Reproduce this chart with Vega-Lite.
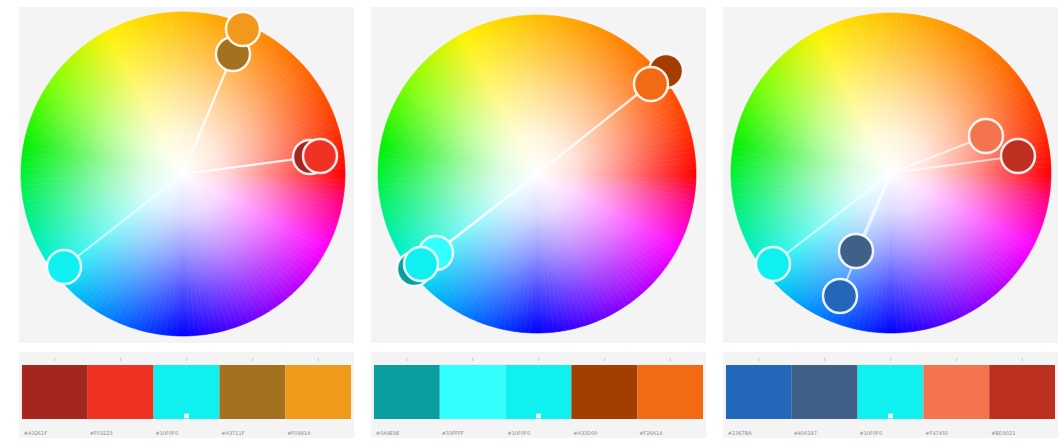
{
  "$schema": "https://vega.github.io/schema/vega-lite/v6.json",
  "background": "#ffffff",
  "padding": {"left": 19, "top": 6, "right": 0, "bottom": 0},
  "spacing": 17,
  "config": {"view": {"fill": "#f4f4f4", "stroke": null}, "axis": {"disable": true}},
  "datasets": {
    "hues": [
      {"h":1},{"h":3},{"h":5},{"h":7},{"h":9},{"h":11},{"h":13},{"h":15},{"h":17},{"h":19},
      {"h":21},{"h":23},{"h":25},{"h":27},{"h":29},{"h":31},{"h":33},{"h":35},{"h":37},{"h":39},
      {"h":41},{"h":43},{"h":45},{"h":47},{"h":49},{"h":51},{"h":53},{"h":55},{"h":57},{"h":59},
      {"h":61},{"h":63},{"h":65},{"h":67},{"h":69},{"h":71},{"h":73},{"h":75},{"h":77},{"h":79},
      {"h":81},{"h":83},{"h":85},{"h":87},{"h":89},{"h":91},{"h":93},{"h":95},{"h":97},{"h":99},
      {"h":101},{"h":103},{"h":105},{"h":107},{"h":109},{"h":111},{"h":113},{"h":115},{"h":117},{"h":119},
      {"h":121},{"h":123},{"h":125},{"h":127},{"h":129},{"h":131},{"h":133},{"h":135},{"h":137},{"h":139},
      {"h":141},{"h":143},{"h":145},{"h":147},{"h":149},{"h":151},{"h":153},{"h":155},{"h":157},{"h":159},
      {"h":161},{"h":163},{"h":165},{"h":167},{"h":169},{"h":171},{"h":173},{"h":175},{"h":177},{"h":179},
      {"h":181},{"h":183},{"h":185},{"h":187},{"h":189},{"h":191},{"h":193},{"h":195},{"h":197},{"h":199},
      {"h":201},{"h":203},{"h":205},{"h":207},{"h":209},{"h":211},{"h":213},{"h":215},{"h":217},{"h":219},
      {"h":221},{"h":223},{"h":225},{"h":227},{"h":229},{"h":231},{"h":233},{"h":235},{"h":237},{"h":239},
      {"h":241},{"h":243},{"h":245},{"h":247},{"h":249},{"h":251},{"h":253},{"h":255},{"h":257},{"h":259},
      {"h":261},{"h":263},{"h":265},{"h":267},{"h":269},{"h":271},{"h":273},{"h":275},{"h":277},{"h":279},
      {"h":281},{"h":283},{"h":285},{"h":287},{"h":289},{"h":291},{"h":293},{"h":295},{"h":297},{"h":299},
      {"h":301},{"h":303},{"h":305},{"h":307},{"h":309},{"h":311},{"h":313},{"h":315},{"h":317},{"h":319},
      {"h":321},{"h":323},{"h":325},{"h":327},{"h":329},{"h":331},{"h":333},{"h":335},{"h":337},{"h":339},
      {"h":341},{"h":343},{"h":345},{"h":347},{"h":349},{"h":351},{"h":353},{"h":355},{"h":357},{"h":359}
    ],
    "circles": [
      {"p":1,"x":50,"y":120,"c":"#A3711F"},
      {"p":1,"x":60,"y":145,"c":"#F0991A"},
      {"p":1,"x":127,"y":17,"c":"#A3261F"},
      {"p":1,"x":137,"y":18,"c":"#F03223"},
      {"p":1,"x":-119,"y":-93,"c":"#10F0F0"},
      {"p":2,"x":129,"y":103,"c":"#A33D00"},
      {"p":2,"x":114,"y":90,"c":"#F26A14"},
      {"p":2,"x":-123,"y":-95,"c":"#0A9E9E"},
      {"p":2,"x":-101,"y":-79,"c":"#33FFFF"},
      {"p":2,"x":-116,"y":-90,"c":"#10F0F0"},
      {"p":3,"x":95,"y":37,"c":"#F47450"},
      {"p":3,"x":127,"y":17,"c":"#BD3021"},
      {"p":3,"x":-35,"y":-78,"c":"#406187"},
      {"p":3,"x":-51,"y":-123,"c":"#2367BA"},
      {"p":3,"x":-118,"y":-91,"c":"#10F0F0"}
    ],
    "pal": [
      {"p":1,"i":0,"c":"#A3261F"},{"p":1,"i":1,"c":"#F03223"},{"p":1,"i":2,"c":"#10F0F0"},{"p":1,"i":3,"c":"#A3711F"},{"p":1,"i":4,"c":"#F0991A"},
      {"p":2,"i":0,"c":"#0A9E9E"},{"p":2,"i":1,"c":"#33FFFF"},{"p":2,"i":2,"c":"#10F0F0"},{"p":2,"i":3,"c":"#A33D00"},{"p":2,"i":4,"c":"#F26A14"},
      {"p":3,"i":0,"c":"#2367BA"},{"p":3,"i":1,"c":"#406187"},{"p":3,"i":2,"c":"#10F0F0"},{"p":3,"i":3,"c":"#F47450"},{"p":3,"i":4,"c":"#BD3021"}
    ]
  },
  "hconcat": [
    {
      "spacing": 9,
      "vconcat": [
        {
          "width": 335, "height": 336,
          "layer": [
            {"data": {"name": "hues"}, "mark": {"type": "arc", "outerRadius": 162, "strokeWidth": 0.6, "strokeJoin": "round"},
             "encoding": {
               "x": {"datum": 0, "type": "quantitative"}, "y": {"datum": 0, "type": "quantitative"},
               "theta": {"aggregate": "count", "type": "quantitative", "stack": true, "scale": {"range": [1.5708, -4.7124]}},
               "order": {"field": "h", "type": "quantitative", "sort": "ascending"},
               "detail": {"field": "h", "type": "quantitative"},
               "color": {"field": "h", "type": "quantitative", "legend": null, "scale": {"type": "linear", "interpolate": "rgb", "domain": [0,20,40,60,80,100,118,145,170,195,218,245,270,300,333,350,360], "range": ["#ff0000","#ff3a00","#ff6600","#ff8800","#ffaa00","#ffd000","#fff200","#80ff00","#00f000","#00f080","#00f0f0","#0077ff","#0000ff","#8000ff","#ff00ff","#ff0080","#ff0000"]}},
               "stroke": {"field": "h", "type": "quantitative", "legend": null, "scale": {"type": "linear", "interpolate": "rgb", "domain": [0,20,40,60,80,100,118,145,170,195,218,245,270,300,333,350,360], "range": ["#ff0000","#ff3a00","#ff6600","#ff8800","#ffaa00","#ffd000","#fff200","#80ff00","#00f000","#00f080","#00f0f0","#0077ff","#0000ff","#8000ff","#ff00ff","#ff0080","#ff0000"]}}
             }},
            {"data": {"values": [{"k": 1}]}, "mark": {"type": "arc", "outerRadius": 162, "theta": 0, "theta2": 6.2832, "stroke": null,
              "fill": {"gradient": "radial", "x1": 0.5, "y1": 0.5, "r1": 0, "x2": 0.5, "y2": 0.5, "r2": 0.5,
                "stops": [{"offset": 0, "color": "rgba(255,255,255,1)"}, {"offset": 0.25, "color": "rgba(255,255,255,0.85)"}, {"offset": 0.5, "color": "rgba(255,255,255,0.58)"}, {"offset": 0.75, "color": "rgba(255,255,255,0.28)"}, {"offset": 1, "color": "rgba(255,255,255,0)"}]}},
             "encoding": {"x": {"datum": 0, "type": "quantitative"}, "y": {"datum": 0, "type": "quantitative"}}},
            {"data": {"name": "circles"}, "transform": [{"filter": {"field": "p", "equal": 1}}],
             "mark": {"type": "rule", "color": "#ffffff", "strokeWidth": 2, "opacity": 0.65},
             "encoding": {
               "x": {"field": "x", "type": "quantitative", "scale": {"domain": [-164, 171], "zero": false, "nice": false}, "axis": null},
               "y": {"field": "y", "type": "quantitative", "scale": {"domain": [-169, 167], "zero": false, "nice": false}, "axis": null},
               "x2": {"datum": 0}, "y2": {"datum": 0}
             }},
            {"data": {"name": "circles"}, "transform": [{"filter": {"field": "p", "equal": 1}}],
             "mark": {"type": "point", "shape": "circle", "filled": true, "size": 1156, "stroke": "#ffffff", "strokeWidth": 2.5, "strokeOpacity": 0.9, "opacity": 1},
             "encoding": {
               "x": {"field": "x", "type": "quantitative", "axis": null},
               "y": {"field": "y", "type": "quantitative", "axis": null},
               "fill": {"field": "c", "type": "nominal", "scale": null}
             }}
          ]
        },
        {
          "width": 335, "height": 86,
          "data": {"name": "pal"}, "transform": [{"filter": {"field": "p", "equal": 1}}],
          "encoding": {"x": {"field": "i", "type": "ordinal", "scale": {"paddingInner": 0, "paddingOuter": 0.045}, "axis": null}},
          "layer": [
            {"mark": {"type": "rect"}, "encoding": {"y": {"datum": 13, "type": "quantitative", "scale": {"domain": [0, 86], "reverse": true, "zero": false, "nice": false}, "axis": null}, "y2": {"datum": 67}, "fill": {"field": "c", "type": "nominal", "scale": null}}},
            {"mark": {"type": "text", "fontSize": 5, "color": "#9a9a9a", "font": "DejaVu Sans"}, "encoding": {"y": {"datum": 7, "type": "quantitative"}, "text": {"value": "i"}}},
            {"mark": {"type": "text", "fontSize": 5, "color": "#8a8a8a", "align": "left", "dx": -31, "font": "DejaVu Sans"}, "encoding": {"y": {"datum": 81, "type": "quantitative"}, "text": {"field": "c"}}},
            {"transform": [{"filter": {"field": "i", "equal": 2}}], "mark": {"type": "point", "shape": "square", "filled": true, "size": 22, "color": "#ffffff", "opacity": 0.95}, "encoding": {"y": {"datum": 64, "type": "quantitative"}}}
          ]
        }
      ]
    },
    {
      "spacing": 9,
      "vconcat": [
        {
          "width": 335, "height": 336,
          "layer": [
            {"data": {"name": "hues"}, "mark": {"type": "arc", "outerRadius": 159, "strokeWidth": 0.6, "strokeJoin": "round"},
             "encoding": {
               "x": {"datum": 0, "type": "quantitative"}, "y": {"datum": 0, "type": "quantitative"},
               "theta": {"aggregate": "count", "type": "quantitative", "stack": true, "scale": {"range": [1.5708, -4.7124]}},
               "order": {"field": "h", "type": "quantitative", "sort": "ascending"},
               "detail": {"field": "h", "type": "quantitative"},
               "color": {"field": "h", "type": "quantitative", "legend": null, "scale": {"type": "linear", "interpolate": "rgb", "domain": [0,20,40,60,80,100,118,145,170,195,218,245,270,300,333,350,360], "range": ["#ff0000","#ff3a00","#ff6600","#ff8800","#ffaa00","#ffd000","#fff200","#80ff00","#00f000","#00f080","#00f0f0","#0077ff","#0000ff","#8000ff","#ff00ff","#ff0080","#ff0000"]}},
               "stroke": {"field": "h", "type": "quantitative", "legend": null, "scale": {"type": "linear", "interpolate": "rgb", "domain": [0,20,40,60,80,100,118,145,170,195,218,245,270,300,333,350,360], "range": ["#ff0000","#ff3a00","#ff6600","#ff8800","#ffaa00","#ffd000","#fff200","#80ff00","#00f000","#00f080","#00f0f0","#0077ff","#0000ff","#8000ff","#ff00ff","#ff0080","#ff0000"]}}
             }},
            {"data": {"values": [{"k": 1}]}, "mark": {"type": "arc", "outerRadius": 159, "theta": 0, "theta2": 6.2832, "stroke": null,
              "fill": {"gradient": "radial", "x1": 0.5, "y1": 0.5, "r1": 0, "x2": 0.5, "y2": 0.5, "r2": 0.5,
                "stops": [{"offset": 0, "color": "rgba(255,255,255,1)"}, {"offset": 0.25, "color": "rgba(255,255,255,0.85)"}, {"offset": 0.5, "color": "rgba(255,255,255,0.58)"}, {"offset": 0.75, "color": "rgba(255,255,255,0.28)"}, {"offset": 1, "color": "rgba(255,255,255,0)"}]}},
             "encoding": {"x": {"datum": 0, "type": "quantitative"}, "y": {"datum": 0, "type": "quantitative"}}},
            {"data": {"name": "circles"}, "transform": [{"filter": {"field": "p", "equal": 2}}],
             "mark": {"type": "rule", "color": "#ffffff", "strokeWidth": 2, "opacity": 0.65},
             "encoding": {
               "x": {"field": "x", "type": "quantitative", "scale": {"domain": [-166, 169], "zero": false, "nice": false}, "axis": null},
               "y": {"field": "y", "type": "quantitative", "scale": {"domain": [-169, 167], "zero": false, "nice": false}, "axis": null},
               "x2": {"datum": 0}, "y2": {"datum": 0}
             }},
            {"data": {"name": "circles"}, "transform": [{"filter": {"field": "p", "equal": 2}}],
             "mark": {"type": "point", "shape": "circle", "filled": true, "size": 1156, "stroke": "#ffffff", "strokeWidth": 2.5, "strokeOpacity": 0.9, "opacity": 1},
             "encoding": {
               "x": {"field": "x", "type": "quantitative", "axis": null},
               "y": {"field": "y", "type": "quantitative", "axis": null},
               "fill": {"field": "c", "type": "nominal", "scale": null}
             }}
          ]
        },
        {
          "width": 335, "height": 86,
          "data": {"name": "pal"}, "transform": [{"filter": {"field": "p", "equal": 2}}],
          "encoding": {"x": {"field": "i", "type": "ordinal", "scale": {"paddingInner": 0, "paddingOuter": 0.045}, "axis": null}},
          "layer": [
            {"mark": {"type": "rect"}, "encoding": {"y": {"datum": 13, "type": "quantitative", "scale": {"domain": [0, 86], "reverse": true, "zero": false, "nice": false}, "axis": null}, "y2": {"datum": 67}, "fill": {"field": "c", "type": "nominal", "scale": null}}},
            {"mark": {"type": "text", "fontSize": 5, "color": "#9a9a9a", "font": "DejaVu Sans"}, "encoding": {"y": {"datum": 7, "type": "quantitative"}, "text": {"value": "i"}}},
            {"mark": {"type": "text", "fontSize": 5, "color": "#8a8a8a", "align": "left", "dx": -31, "font": "DejaVu Sans"}, "encoding": {"y": {"datum": 81, "type": "quantitative"}, "text": {"field": "c"}}},
            {"transform": [{"filter": {"field": "i", "equal": 2}}], "mark": {"type": "point", "shape": "square", "filled": true, "size": 22, "color": "#ffffff", "opacity": 0.95}, "encoding": {"y": {"datum": 64, "type": "quantitative"}}}
          ]
        }
      ]
    },
    {
      "spacing": 9,
      "vconcat": [
        {
          "width": 335, "height": 336,
          "layer": [
            {"data": {"name": "hues"}, "mark": {"type": "arc", "outerRadius": 160, "strokeWidth": 0.6, "strokeJoin": "round"},
             "encoding": {
               "x": {"datum": 0, "type": "quantitative"}, "y": {"datum": 0, "type": "quantitative"},
               "theta": {"aggregate": "count", "type": "quantitative", "stack": true, "scale": {"range": [1.5708, -4.7124]}},
               "order": {"field": "h", "type": "quantitative", "sort": "ascending"},
               "detail": {"field": "h", "type": "quantitative"},
               "color": {"field": "h", "type": "quantitative", "legend": null, "scale": {"type": "linear", "interpolate": "rgb", "domain": [0,20,40,60,80,100,118,145,170,195,218,245,270,300,333,350,360], "range": ["#ff0000","#ff3a00","#ff6600","#ff8800","#ffaa00","#ffd000","#fff200","#80ff00","#00f000","#00f080","#00f0f0","#0077ff","#0000ff","#8000ff","#ff00ff","#ff0080","#ff0000"]}},
               "stroke": {"field": "h", "type": "quantitative", "legend": null, "scale": {"type": "linear", "interpolate": "rgb", "domain": [0,20,40,60,80,100,118,145,170,195,218,245,270,300,333,350,360], "range": ["#ff0000","#ff3a00","#ff6600","#ff8800","#ffaa00","#ffd000","#fff200","#80ff00","#00f000","#00f080","#00f0f0","#0077ff","#0000ff","#8000ff","#ff00ff","#ff0080","#ff0000"]}}
             }},
            {"data": {"values": [{"k": 1}]}, "mark": {"type": "arc", "outerRadius": 160, "theta": 0, "theta2": 6.2832, "stroke": null,
              "fill": {"gradient": "radial", "x1": 0.5, "y1": 0.5, "r1": 0, "x2": 0.5, "y2": 0.5, "r2": 0.5,
                "stops": [{"offset": 0, "color": "rgba(255,255,255,1)"}, {"offset": 0.25, "color": "rgba(255,255,255,0.85)"}, {"offset": 0.5, "color": "rgba(255,255,255,0.58)"}, {"offset": 0.75, "color": "rgba(255,255,255,0.28)"}, {"offset": 1, "color": "rgba(255,255,255,0)"}]}},
             "encoding": {"x": {"datum": 0, "type": "quantitative"}, "y": {"datum": 0, "type": "quantitative"}}},
            {"data": {"name": "circles"}, "transform": [{"filter": {"field": "p", "equal": 3}}],
             "mark": {"type": "rule", "color": "#ffffff", "strokeWidth": 2, "opacity": 0.65},
             "encoding": {
               "x": {"field": "x", "type": "quantitative", "scale": {"domain": [-168, 167], "zero": false, "nice": false}, "axis": null},
               "y": {"field": "y", "type": "quantitative", "scale": {"domain": [-170, 166], "zero": false, "nice": false}, "axis": null},
               "x2": {"datum": 0}, "y2": {"datum": 0}
             }},
            {"data": {"name": "circles"}, "transform": [{"filter": {"field": "p", "equal": 3}}],
             "mark": {"type": "point", "shape": "circle", "filled": true, "size": 1156, "stroke": "#ffffff", "strokeWidth": 2.5, "strokeOpacity": 0.9, "opacity": 1},
             "encoding": {
               "x": {"field": "x", "type": "quantitative", "axis": null},
               "y": {"field": "y", "type": "quantitative", "axis": null},
               "fill": {"field": "c", "type": "nominal", "scale": null}
             }}
          ]
        },
        {
          "width": 335, "height": 86,
          "data": {"name": "pal"}, "transform": [{"filter": {"field": "p", "equal": 3}}],
          "encoding": {"x": {"field": "i", "type": "ordinal", "scale": {"paddingInner": 0, "paddingOuter": 0.045}, "axis": null}},
          "layer": [
            {"mark": {"type": "rect"}, "encoding": {"y": {"datum": 13, "type": "quantitative", "scale": {"domain": [0, 86], "reverse": true, "zero": false, "nice": false}, "axis": null}, "y2": {"datum": 67}, "fill": {"field": "c", "type": "nominal", "scale": null}}},
            {"mark": {"type": "text", "fontSize": 5, "color": "#9a9a9a", "font": "DejaVu Sans"}, "encoding": {"y": {"datum": 7, "type": "quantitative"}, "text": {"value": "i"}}},
            {"mark": {"type": "text", "fontSize": 5, "color": "#8a8a8a", "align": "left", "dx": -31, "font": "DejaVu Sans"}, "encoding": {"y": {"datum": 81, "type": "quantitative"}, "text": {"field": "c"}}},
            {"transform": [{"filter": {"field": "i", "equal": 2}}], "mark": {"type": "point", "shape": "square", "filled": true, "size": 22, "color": "#ffffff", "opacity": 0.95}, "encoding": {"y": {"datum": 64, "type": "quantitative"}}}
          ]
        }
      ]
    }
  ]
}
